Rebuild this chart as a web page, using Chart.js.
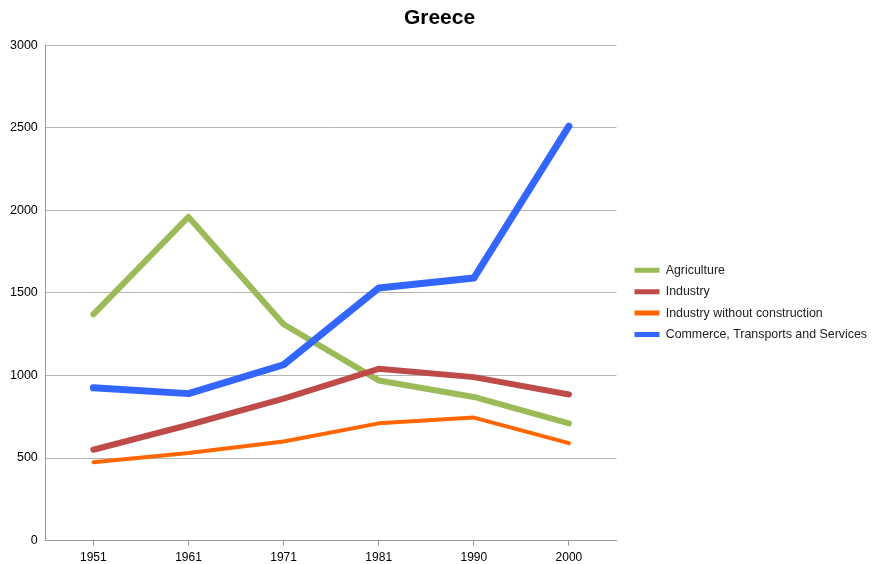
<!DOCTYPE html>
<html>
<head>
<meta charset="utf-8">
<script src="https://cdn.jsdelivr.net/npm/chart.js@4/dist/chart.umd.min.js"></script>
<style>
  html, body { margin: 0; padding: 0; background: #fff; }
  #wrap { width: 872px; height: 564px; }
</style>
</head>
<body>
<div id="wrap"><canvas id="myChart" width="872" height="564"></canvas></div>
<script>
const years = ['1951', '1961', '1971', '1981', '1990', '2000'];

const agriculture = [1370, 1960, 1310, 970, 870, 710];
const industry = [550, 700, 860, 1040, 990, 885];
const industryNoConstr = [475, 530, 600, 710, 745, 590];
const commerce = [925, 890, 1065, 1530, 1590, 2510];

const labels = ['Agriculture', 'Industry', 'Industry without construction', 'Commerce, Transports and Services'];
const colors = ['#9BBB59', '#BE4B48', '#FF6600', '#3366FF'];

function line(i, data, width, order) {
    return {
        label: labels[i],
        data: data,
        borderColor: colors[i],
        backgroundColor: colors[i],
        borderWidth: width,
        pointRadius: 0,
        tension: 0,
        borderCapStyle: 'round',
        borderJoinStyle: 'round',
        order: order
    };
}

const fam = '"Liberation Sans", Arial, sans-serif';
const font = { family: fam, size: 12.4 };

new Chart('myChart', {
    type: 'line',
    data: {
        labels: years,
        datasets: [
            line(0, agriculture, 6, 3),
            line(1, industry, 6, 1),
            line(2, industryNoConstr, 4, 2),
            line(3, commerce, 7, 0)
        ]
    },
    options: {
        responsive: false,
        animation: false,
        layout: { padding: { left: 2, right: -5, top: 0, bottom: -6 } },
        plugins: {
            title: {
                display: true,
                text: 'Greece',
                color: '#000',
                font: { family: fam, size: 21, weight: 'bold' },
                padding: { top: 6, bottom: 14 }
            },
            legend: {
                position: 'right',
                maxWidth: 260,
                title: {
                    display: true,
                    text: ' ',
                    font: { size: 4 },
                    padding: { top: 30, bottom: 0 }
                },
                labels: {
                    color: '#222',
                    font: font,
                    boxWidth: 25,
                    boxHeight: 5,
                    padding: 9,
                    sort: (a, b) => a.datasetIndex - b.datasetIndex,
                    generateLabels: chart => Chart.defaults.plugins.legend.labels.generateLabels(chart)
                        .map(l => Object.assign(l, { lineWidth: 0 }))
                }
            },
            tooltip: { enabled: false }
        },
        scales: {
            x: {
                offset: true,
                grid: {
                    offset: false,
                    drawOnChartArea: false,
                    drawTicks: true,
                    tickLength: 5,
                    color: '#999'
                },
                border: { color: '#999', width: 1 },
                ticks: { color: '#000', font: { family: fam, size: 12 }, padding: 5 }
            },
            y: {
                min: 0,
                max: 3000,
                ticks: {
                    stepSize: 500,
                    color: '#000',
                    font: { family: fam, size: 12.5 },
                    padding: 8,
                    callback: v => String(v)
                },
                grid: { color: '#b5b5b5', drawTicks: false, lineWidth: 1 },
                border: { color: '#999', width: 1 }
            },
            gap: {
                type: 'linear',
                position: 'right',
                grid: { display: false },
                border: { display: false },
                ticks: { display: false },
                afterFit: s => { s.width = 9; }
            }
        }
    }
});
</script>
</body>
</html>
